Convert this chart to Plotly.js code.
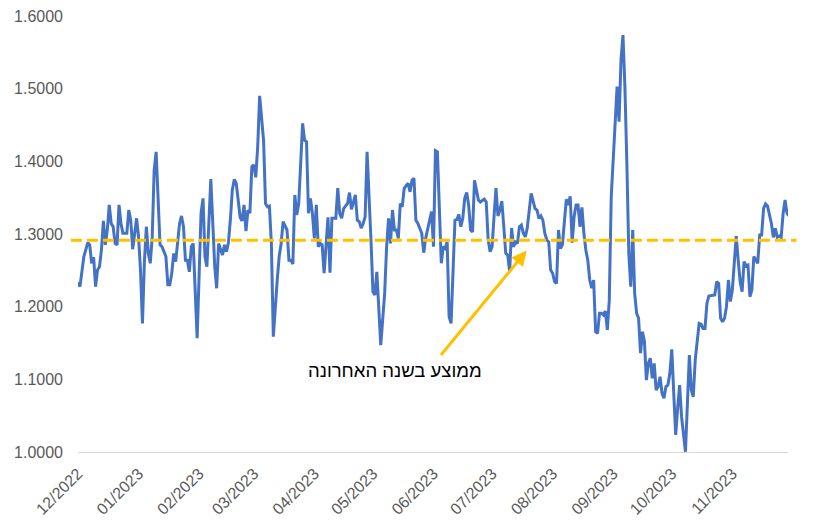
<!DOCTYPE html>
<html>
<head>
<meta charset="utf-8">
<script src="https://cdn.plot.ly/plotly-3.0.1.min.js"></script>
<style>
  html, body { margin: 0; padding: 0; background: #fff; }
  #chart { width: 814px; height: 531px; }
</style>
</head>
<body>
<div id="chart"></div>
<script>
const dates = [
  '2022-12-01','2022-12-02','2022-12-04','2022-12-06','2022-12-07','2022-12-08','2022-12-09','2022-12-10',
  '2022-12-11','2022-12-12','2022-12-13','2022-12-14','2022-12-15','2022-12-16','2022-12-17','2022-12-18',
  '2022-12-19','2022-12-20','2022-12-21','2022-12-22','2022-12-23','2022-12-24','2022-12-26','2022-12-27',
  '2022-12-28','2022-12-29','2022-12-31',
  '2023-01-01','2023-01-02','2023-01-03','2023-01-04','2023-01-05','2023-01-06','2023-01-07','2023-01-08',
  '2023-01-09','2023-01-10','2023-01-11','2023-01-12','2023-01-13','2023-01-15','2023-01-16','2023-01-17',
  '2023-01-18','2023-01-19','2023-01-20','2023-01-21','2023-01-22','2023-01-23','2023-01-24','2023-01-25',
  '2023-01-26','2023-01-27','2023-01-28','2023-01-29','2023-01-30','2023-01-31',
  '2023-02-02','2023-02-03','2023-02-04','2023-02-05','2023-02-07','2023-02-08','2023-02-09','2023-02-10',
  '2023-02-11','2023-02-13','2023-02-14','2023-02-15','2023-02-16','2023-02-17','2023-02-18','2023-02-19',
  '2023-02-20','2023-02-21','2023-02-22','2023-02-23','2023-02-24','2023-02-25','2023-02-26','2023-02-27',
  '2023-02-28',
  '2023-03-01','2023-03-02','2023-03-03','2023-03-04','2023-03-06','2023-03-07','2023-03-08','2023-03-09',
  '2023-03-10','2023-03-11','2023-03-13','2023-03-14','2023-03-15','2023-03-16','2023-03-18','2023-03-19',
  '2023-03-20','2023-03-21','2023-03-22','2023-03-23','2023-03-24','2023-03-25','2023-03-26','2023-03-27',
  '2023-03-28','2023-03-29','2023-03-30','2023-03-31',
  '2023-04-01','2023-04-02','2023-04-03','2023-04-04','2023-04-05','2023-04-06','2023-04-07','2023-04-08',
  '2023-04-09','2023-04-10','2023-04-12','2023-04-13','2023-04-14','2023-04-15','2023-04-16','2023-04-18',
  '2023-04-19','2023-04-20','2023-04-22','2023-04-23','2023-04-24','2023-04-25','2023-04-26','2023-04-27',
  '2023-04-28','2023-04-29','2023-04-30',
  '2023-05-01','2023-05-02','2023-05-03','2023-05-04','2023-05-05','2023-05-07','2023-05-08','2023-05-09',
  '2023-05-10','2023-05-11','2023-05-12','2023-05-13','2023-05-14','2023-05-15','2023-05-16','2023-05-17',
  '2023-05-19','2023-05-20','2023-05-21','2023-05-22','2023-05-23','2023-05-24','2023-05-26','2023-05-27',
  '2023-05-28','2023-05-30','2023-05-31',
  '2023-06-01','2023-06-02','2023-06-03','2023-06-04','2023-06-05','2023-06-06','2023-06-07','2023-06-08',
  '2023-06-09','2023-06-10','2023-06-12','2023-06-13','2023-06-14','2023-06-15','2023-06-16','2023-06-17',
  '2023-06-18','2023-06-19','2023-06-20','2023-06-21','2023-06-22','2023-06-23','2023-06-24','2023-06-25',
  '2023-06-27','2023-06-28','2023-06-29','2023-06-30',
  '2023-07-01','2023-07-02','2023-07-03','2023-07-04','2023-07-05','2023-07-06','2023-07-07','2023-07-08',
  '2023-07-09','2023-07-10','2023-07-11','2023-07-12','2023-07-13','2023-07-14','2023-07-15','2023-07-16',
  '2023-07-17','2023-07-18','2023-07-19','2023-07-20','2023-07-21','2023-07-23','2023-07-24','2023-07-25',
  '2023-07-26','2023-07-27','2023-07-28','2023-07-29','2023-07-30','2023-07-31',
  '2023-08-01','2023-08-02','2023-08-03','2023-08-04','2023-08-05','2023-08-06','2023-08-07','2023-08-08',
  '2023-08-09','2023-08-10','2023-08-11','2023-08-12','2023-08-13','2023-08-14','2023-08-15','2023-08-16',
  '2023-08-17','2023-08-18','2023-08-19','2023-08-20','2023-08-21','2023-08-22','2023-08-23','2023-08-24',
  '2023-08-25','2023-08-26','2023-08-27','2023-08-28','2023-08-29','2023-08-30','2023-08-31',
  '2023-09-01','2023-09-02','2023-09-03','2023-09-04','2023-09-05','2023-09-06','2023-09-07','2023-09-08',
  '2023-09-09','2023-09-10','2023-09-11','2023-09-12','2023-09-13','2023-09-14','2023-09-15','2023-09-16',
  '2023-09-17','2023-09-18','2023-09-19','2023-09-20','2023-09-21','2023-09-22','2023-09-23','2023-09-24',
  '2023-09-25','2023-09-26','2023-09-27','2023-09-28','2023-09-29','2023-09-30',
  '2023-10-01','2023-10-02','2023-10-03','2023-10-04','2023-10-05','2023-10-06','2023-10-08','2023-10-09',
  '2023-10-10','2023-10-11','2023-10-12','2023-10-13','2023-10-15','2023-10-16','2023-10-17','2023-10-18',
  '2023-10-19','2023-10-20','2023-10-22','2023-10-23','2023-10-24','2023-10-25','2023-10-26','2023-10-27',
  '2023-10-28','2023-10-29','2023-10-30','2023-10-31',
  '2023-11-01','2023-11-02','2023-11-03','2023-11-04','2023-11-05','2023-11-06','2023-11-07','2023-11-08',
  '2023-11-09','2023-11-10','2023-11-11','2023-11-12','2023-11-13','2023-11-14','2023-11-15','2023-11-16',
  '2023-11-17','2023-11-18','2023-11-19','2023-11-20','2023-11-21','2023-11-22','2023-11-23','2023-11-24',
  '2023-11-25','2023-11-26','2023-11-27','2023-11-28','2023-11-29','2023-11-30'
]

const values = [
  1.2335,1.2275,1.2688,1.288,1.285,1.2597,1.268,1.2275,
  1.2505,1.255,1.278,1.318,1.285,1.3055,1.340,1.3145,
  1.310,1.287,1.285,1.340,1.3145,1.301,1.301,1.333,
  1.319,1.279,1.3216,
  1.296,1.2505,1.177,1.262,1.310,1.2734,1.2597,1.296,
  1.388,1.413,1.3375,1.285,1.2825,1.269,1.230,1.230,
  1.246,1.2734,1.262,1.2917,1.3145,1.3248,1.310,1.264,
  1.264,1.248,1.2825,1.287,1.2275,1.1565,
  1.3285,1.349,1.269,1.255,1.3757,1.319,1.255,1.2253,
  1.287,1.271,1.285,1.2756,1.288,1.319,1.3605,1.375,
  1.3698,1.3468,1.323,1.318,1.340,1.304,1.333,1.3285,
  1.3926,
  1.395,1.378,1.420,1.490,1.429,1.342,1.3375,1.3385,
  1.287,1.1587,1.2367,1.269,1.287,1.317,1.3055,1.264,
  1.264,1.2587,1.3537,1.326,1.342,1.397,1.4523,1.429,
  1.427,1.3285,1.349,1.3285,
  1.294,1.340,1.2825,1.287,1.285,1.246,1.2825,1.323,
  1.2467,1.3216,1.3216,1.363,1.3285,1.3216,1.335,1.342,
  1.357,1.334,1.3537,1.319,1.317,1.308,1.3145,1.3238,
  1.413,1.3605,1.2917,
  1.2206,1.216,1.248,1.2046,1.147,1.2184,1.2825,1.3216,
  1.287,1.333,1.3055,1.3055,1.294,1.342,1.3375,1.363,
  1.3698,1.358,1.374,1.3766,1.319,1.3145,1.301,1.2743,
  1.294,1.319,1.3307,
  1.2825,1.4146,1.413,1.3285,1.2597,1.2825,1.280,1.289,
  1.186,1.177,1.319,1.320,1.327,1.310,1.3216,1.349,
  1.357,1.340,1.3055,1.303,1.374,1.3605,1.3468,1.344,
  1.348,1.344,1.2917,1.2756,
  1.2825,1.3238,1.363,1.3248,1.333,1.3454,1.310,1.2734,
  1.271,1.248,1.308,1.2825,1.289,1.287,1.310,1.3124,
  1.301,1.296,1.308,1.333,1.356,1.335,1.333,1.3216,
  1.3248,1.319,1.301,1.2917,1.289,1.2505,
  1.246,1.2343,1.232,1.3055,1.280,1.285,1.3145,1.3477,
  1.340,1.352,1.288,1.3238,1.340,1.340,1.310,1.3367,
  1.301,1.278,1.264,1.2367,1.2253,1.2367,1.1655,1.1633,
  1.191,1.191,1.1885,1.194,1.168,1.209,1.3513,
  1.3995,1.443,1.5027,1.4545,1.5394,1.5738,1.5027,1.3973,
  1.2734,1.2275,1.3055,1.2184,1.191,1.184,1.136,1.1655,
  1.152,1.099,1.122,1.129,1.1014,1.122,1.0853,1.0899,
  1.1036,1.0808,1.0739,1.0899,1.092,1.108,
  1.1413,1.0808,1.0234,1.060,1.092,1.0486,1.0004,1.067,
  1.1335,1.0853,1.076,1.1266,1.177,1.176,1.170,1.170,
  1.2046,1.2147,1.216,1.216,1.2343,1.232,1.184,1.1793,
  1.184,1.200,1.2367,1.207,
  1.223,1.255,1.2972,1.264,1.2343,1.2206,1.262,1.256,
  1.2573,1.2137,1.223,1.269,1.264,1.2597,1.2986,1.2986,
  1.3353,1.3413,1.3385,1.326,1.3145,1.2954,1.308,1.2954,
  1.2972,1.2954,1.3285,1.3468,1.3285,1.3252
]

// average over the last year
const avgValue = 1.2915
const avgLabel = 'ממוצע בשנה האחרונה'

const axisFont = { family: 'Liberation Sans, Arial, sans-serif', size: 16, color: '#595959' }

const trace = {
  x: dates,
  y: values,
  mode: 'lines',
  type: 'scatter',
  line: { color: '#4472C4', width: 3 },
  hoverinfo: 'x+y',
}

const layout = {
  width: 814,
  height: 531,
  margin: { l: 78, r: 26, t: 16, b: 79 },
  paper_bgcolor: '#ffffff',
  plot_bgcolor: '#ffffff',
  showlegend: false,
  xaxis: {
    type: 'date',
    range: ['2022-12-01', '2023-11-29 12:00'],
    tick0: '2022-12-01',
    dtick: 'M1',
    tickformat: '%m/%Y',
    tickangle: -45,
    tickfont: axisFont,
    showgrid: false,
    zeroline: false,
    showline: true,
    linecolor: '#d9d9d9',
    linewidth: 1,
    ticks: '',
    ticklabelstandoff: 5,
  },
  yaxis: {
    range: [1.0, 1.6],
    dtick: 0.1,
    tickformat: '.4f',
    tickfont: axisFont,
    showgrid: false,
    zeroline: false,
    showline: false,
    ticks: '',
    ticklabelstandoff: 14,
  },
  shapes: [{
    type: 'line',
    xref: 'paper',
    yref: 'y',
    x0: -0.01,
    x1: 1.012,
    y0: avgValue,
    y1: avgValue,
    layer: 'above',
    line: { color: '#FFC000', width: 3, dash: '11px,5px' },
  }],
  annotations: [
    {
      xref: 'paper', yref: 'paper',
      x: 0.632, y: 0.462,
      ax: -87, ay: 106,
      text: '',
      showarrow: true,
      arrowhead: 2,
      arrowsize: 1,
      arrowwidth: 3,
      arrowcolor: '#FFC000',
      standoff: 0,
    },
    {
      xref: 'paper', yref: 'paper',
      x: 0.447, y: 0.187,
      xanchor: 'center', yanchor: 'middle',
      text: avgLabel,
      showarrow: false,
      font: { family: 'Liberation Sans, Arial, sans-serif', size: 18.5, color: '#000000' },
    },
  ],
}

const config = { responsive: false, displayModeBar: false }

Plotly.newPlot('chart', [trace], layout, config)
</script>
</body>
</html>
